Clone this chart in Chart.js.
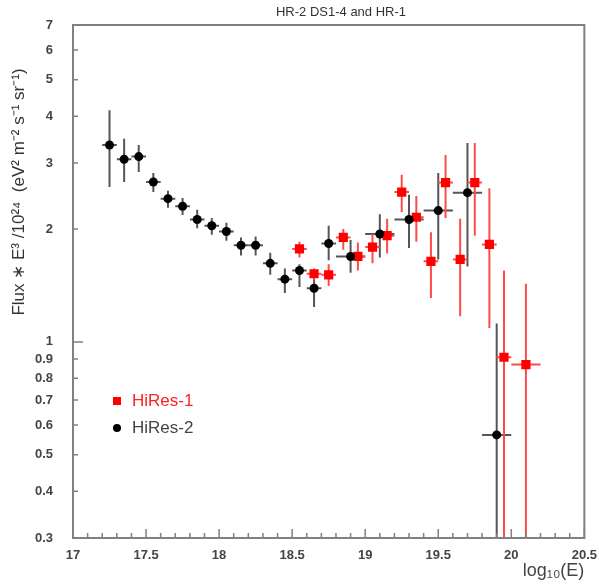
<!DOCTYPE html>
<html>
<head>
<meta charset="utf-8">
<script src="https://cdn.jsdelivr.net/npm/chart.js@4.4.1/dist/chart.umd.min.js"></script>
<style>
  body { margin: 0; background: #fff; }
  #wrap { width: 599px; height: 584px; }
</style>
</head>
<body>
<div id="wrap"><canvas id="chart" width="599" height="584"></canvas></div>
<script>
// HiRes-2 (black)
const hr2X = [17.25, 17.35, 17.45, 17.55, 17.65, 17.75, 17.85, 17.95, 18.05, 18.15, 18.25, 18.35, 18.45, 18.55, 18.65, 18.75, 18.9, 19.1, 19.3, 19.5, 19.7, 19.9];
const hr2Y = [3.35, 3.07, 3.12, 2.67, 2.41, 2.30, 2.12, 2.04, 1.97, 1.81, 1.81, 1.62, 1.47, 1.55, 1.39, 1.83, 1.69, 1.94, 2.12, 2.24, 2.50, 0.565];
const hr2Hi = [4.15, 3.48, 3.35, 2.82, 2.53, 2.42, 2.25, 2.14, 2.08, 1.90, 1.91, 1.73, 1.57, 1.61, 1.48, 2.04, 1.87, 2.19, 2.47, 2.82, 3.39, 1.12];
const hr2Lo = [2.59, 2.67, 2.84, 2.51, 2.28, 2.18, 2.01, 1.93, 1.86, 1.70, 1.70, 1.51, 1.35, 1.40, 1.24, 1.65, 1.53, 1.68, 1.78, 1.66, 1.59, 0.2];
const hr2XErr = [0.05, 0.05, 0.05, 0.05, 0.05, 0.05, 0.05, 0.05, 0.05, 0.05, 0.05, 0.05, 0.05, 0.05, 0.05, 0.05, 0.1, 0.1, 0.1, 0.1, 0.1, 0.1];

// HiRes-1 (red)
const hr1X = [18.55, 18.65, 18.75, 18.85, 18.95, 19.05, 19.15, 19.25, 19.35, 19.45, 19.55, 19.65, 19.75, 19.85, 19.95, 20.1];
const hr1Y = [1.77, 1.52, 1.51, 1.90, 1.69, 1.79, 1.92, 2.51, 2.15, 1.64, 2.66, 1.66, 2.66, 1.82, 0.91, 0.87];
const hr1Hi = [1.85, 1.57, 1.61, 2.00, 1.84, 1.94, 2.13, 2.79, 2.45, 1.96, 3.15, 2.13, 3.39, 2.57, 1.55, 1.43];
const hr1Lo = [1.68, 1.46, 1.41, 1.76, 1.55, 1.62, 1.72, 2.22, 1.85, 1.31, 2.14, 1.17, 1.92, 1.09, 0.2, 0.2];
const hr1XErr = [0.05, 0.05, 0.05, 0.05, 0.05, 0.05, 0.05, 0.05, 0.05, 0.05, 0.05, 0.05, 0.05, 0.05, 0.05, 0.1];

const xTickLabels = [17, 17.5, 18, 18.5, 19, 19.5, 20, 20.5];
const yTickValues = [0.3, 0.4, 0.5, 0.6, 0.7, 0.8, 0.9, 1, 2, 3, 4, 5, 6, 7];

const chartTitle = 'HR-2 DS1-4 and HR-1';
const yTitle = 'Flux \u2217 E\u00b3 /10\u00b2\u2074  (eV\u00b2 m\u207b\u00b2 s\u207b\u00b9 sr\u207b\u00b9)';
const xTitle = 'log\u2081\u2080(E)';

// minor ticks every 0.1 along x
const xMinor = [];
for (let i = 0; i <= 35; i++) xMinor.push(Math.round((17 + i * 0.1) * 10) / 10);

function toPoints(xs, ys) {
    return xs.map((x, i) => ({ x: x, y: ys[i] }));
}

const errBars = [
    { x: hr2X, y: hr2Y, lo: hr2Lo, hi: hr2Hi, xe: hr2XErr, color: '#555555' },
    { x: hr1X, y: hr1Y, lo: hr1Lo, hi: hr1Hi, xe: hr1XErr, color: '#ff4a4a' }
];

const rootStyle = {
    id: 'rootStyle',
    beforeDatasetsDraw(chart) {
        const ctx = chart.ctx;
        const xs = chart.scales.x, ys = chart.scales.y;
        const a = chart.chartArea;
        ctx.save();
        ctx.beginPath();
        ctx.rect(a.left, a.top, a.right - a.left, a.bottom - a.top);
        ctx.clip();
        ctx.lineWidth = 2;
        // black first, red on top
        errBars.forEach(s => {
            ctx.strokeStyle = s.color;
            s.x.forEach((xv, i) => {
                const px = xs.getPixelForValue(xv);
                const py = ys.getPixelForValue(s.y[i]);
                ctx.beginPath();
                ctx.moveTo(px, ys.getPixelForValue(s.hi[i]));
                ctx.lineTo(px, ys.getPixelForValue(s.lo[i]));
                ctx.moveTo(xs.getPixelForValue(xv - s.xe[i]), py);
                ctx.lineTo(xs.getPixelForValue(xv + s.xe[i]), py);
                ctx.stroke();
            });
        });
        ctx.restore();
    },
    afterDraw(chart) {
        const ctx = chart.ctx;
        const xs = chart.scales.x, ys = chart.scales.y;
        const a = chart.chartArea;
        ctx.save();
        // frame
        ctx.strokeStyle = '#808080';
        ctx.lineWidth = 2;
        ctx.strokeRect(a.left, a.top, a.right - a.left, a.bottom - a.top);
        // inward x ticks
        ctx.lineWidth = 1.5;
        ctx.beginPath();
        xMinor.forEach(v => {
            const px = xs.getPixelForValue(v);
            const major = xTickLabels.includes(v);
            ctx.moveTo(px, a.bottom);
            ctx.lineTo(px, a.bottom - (major ? 9 : 5));
        });
        // inward y ticks
        yTickValues.forEach(v => {
            const py = ys.getPixelForValue(v);
            ctx.moveTo(a.left, py);
            ctx.lineTo(a.left + (v === 1 ? 10 : 5), py);
        });
        ctx.stroke();

        // title
        ctx.fillStyle = '#333';
        ctx.font = '13px "Liberation Sans", Arial, sans-serif';
        ctx.textAlign = 'center';
        ctx.textBaseline = 'middle';
        ctx.fillText(chartTitle, 341, 12);

        // y title
        ctx.font = '17px "Liberation Sans", Arial, sans-serif';
        ctx.fillStyle = '#333';
        ctx.translate(19, 192);
        ctx.rotate(-Math.PI / 2);
        ctx.fillText(yTitle, 0, 0);
        ctx.restore();

        // x title
        ctx.save();
        ctx.fillStyle = '#444';
        ctx.font = '18px "Liberation Sans", Arial, sans-serif';
        ctx.textAlign = 'right';
        ctx.textBaseline = 'middle';
        ctx.fillText(xTitle, a.right, 571);

        // legend
        ctx.font = '17px "Liberation Sans", Arial, sans-serif';
        ctx.textAlign = 'left';
        chart.data.datasets.slice().reverse().forEach((ds, i) => {
            const ly = 401 + i * 27;
            ctx.fillStyle = ds.backgroundColor;
            if (ds.pointStyle === 'rect') {
                ctx.fillRect(113, ly - 4, 8, 8);
            } else {
                ctx.beginPath();
                ctx.arc(117, ly, 4, 0, Math.PI * 2);
                ctx.fill();
            }
            ctx.fillStyle = ds.labelColor;
            ctx.fillText(ds.label, 132, ly);
        });
        ctx.restore();
    }
};

new Chart(document.getElementById('chart'), {
    type: 'scatter',
    data: {
        datasets: [
            {
                label: 'HiRes-2',
                data: toPoints(hr2X, hr2Y),
                backgroundColor: '#000000',
                borderColor: '#000000',
                labelColor: '#444444',
                pointStyle: 'circle',
                pointRadius: 4.5,
                borderWidth: 0
            },
            {
                label: 'HiRes-1',
                data: toPoints(hr1X, hr1Y),
                backgroundColor: '#ff0000',
                borderColor: '#ff0000',
                labelColor: '#ff2020',
                pointStyle: 'rect',
                pointRadius: 6.5,
                borderWidth: 0
            }
        ]
    },
    options: {
        responsive: false,
        animation: false,
        layout: { padding: { top: 25, right: 14, left: 0, bottom: 0 } },
        plugins: {
            legend: { display: false },
            tooltip: { enabled: false }
        },
        scales: {
            x: {
                type: 'linear',
                min: 17,
                max: 20.5,
                grid: { display: false },
                border: { display: false },
                afterBuildTicks: s => { s.ticks = xTickLabels.map(v => ({ value: v })); },
                afterFit: s => { s.height = 46; },
                ticks: {
                    padding: 2,
                    color: '#444',
                    font: { family: '"Liberation Sans", Arial, sans-serif', size: 13, weight: 'bold' },
                    callback: v => String(v)
                }
            },
            y: {
                type: 'logarithmic',
                min: 0.3,
                max: 7,
                grid: { display: false },
                border: { display: false },
                afterBuildTicks: s => { s.ticks = yTickValues.map(v => ({ value: v })); },
                afterFit: s => { s.width = 73; },
                ticks: {
                    padding: 12,
                    color: '#444',
                    font: { family: '"Liberation Sans", Arial, sans-serif', size: 13, weight: 'bold' },
                    callback: v => String(v)
                }
            }
        }
    },
    plugins: [rootStyle]
});
</script>
</body>
</html>
